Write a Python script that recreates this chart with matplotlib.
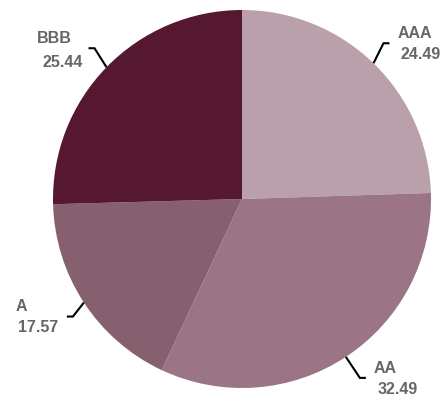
import numpy as np
import matplotlib.pyplot as plt

ratings = ['AAA', 'AA', 'A', 'BBB']
shares = [24.49, 32.49, 17.57, 25.44]
colors = ['#b9a0aa', '#9b7585', '#87606f', '#561830']

# layout (pixels): leader elbow offset from slice edge, name and value offsets from line end
elbow = [(10, 20), (14, 21), (-11, 14), (-12, 19)]
name_off = [(25, 11), (19, 10), (-46, 11), (-34, 11)]
value_off = [(31, -10), (32, -11), (-29, -10), (-26, -13)]

W, H = 442, 402
cx, cy, R = 242, H - 200, 189

fig = plt.figure(figsize=(W / 100, H / 100), dpi=100)
ax = fig.add_axes([0, 0, 1, 1])
ax.pie(shares, colors=colors, startangle=90, counterclock=False,
       center=(cx, cy), radius=R, wedgeprops=dict(linewidth=0))
ax.set_xlim(0, W)
ax.set_ylim(0, H)
ax.set_aspect('equal')
ax.set_axis_off()

cum = np.cumsum([0] + shares)
total = sum(shares)
for i, lab in enumerate(ratings):
    mid = (cum[i] + cum[i + 1]) / 2 / total * 360
    ang = np.deg2rad(90 - mid)
    x0, y0 = cx + R * np.cos(ang), cy + R * np.sin(ang)
    side = 1 if np.cos(ang) > 0 else -1
    x1, y1 = x0 + elbow[i][0], y0 + (elbow[i][1] if np.sin(ang) > 0 else -elbow[i][1])
    x2 = x1 + 6 * side
    ax.plot([x0, x1, x2], [y0, y1, y1], color='black', lw=1.5,
            solid_joinstyle='miter', solid_capstyle='butt')
    ax.text(x2 + name_off[i][0], y1 + name_off[i][1], lab, ha='center', va='center',
            fontsize=11.5, fontweight='bold', color='#666666', family='Liberation Sans')
    ax.text(x2 + value_off[i][0], y1 + value_off[i][1], f'{shares[i]:.2f}',
            ha='center', va='center', fontsize=11.5, fontweight='bold',
            color='#666666', family='Liberation Sans')

fig.savefig('out.png', dpi=100)
